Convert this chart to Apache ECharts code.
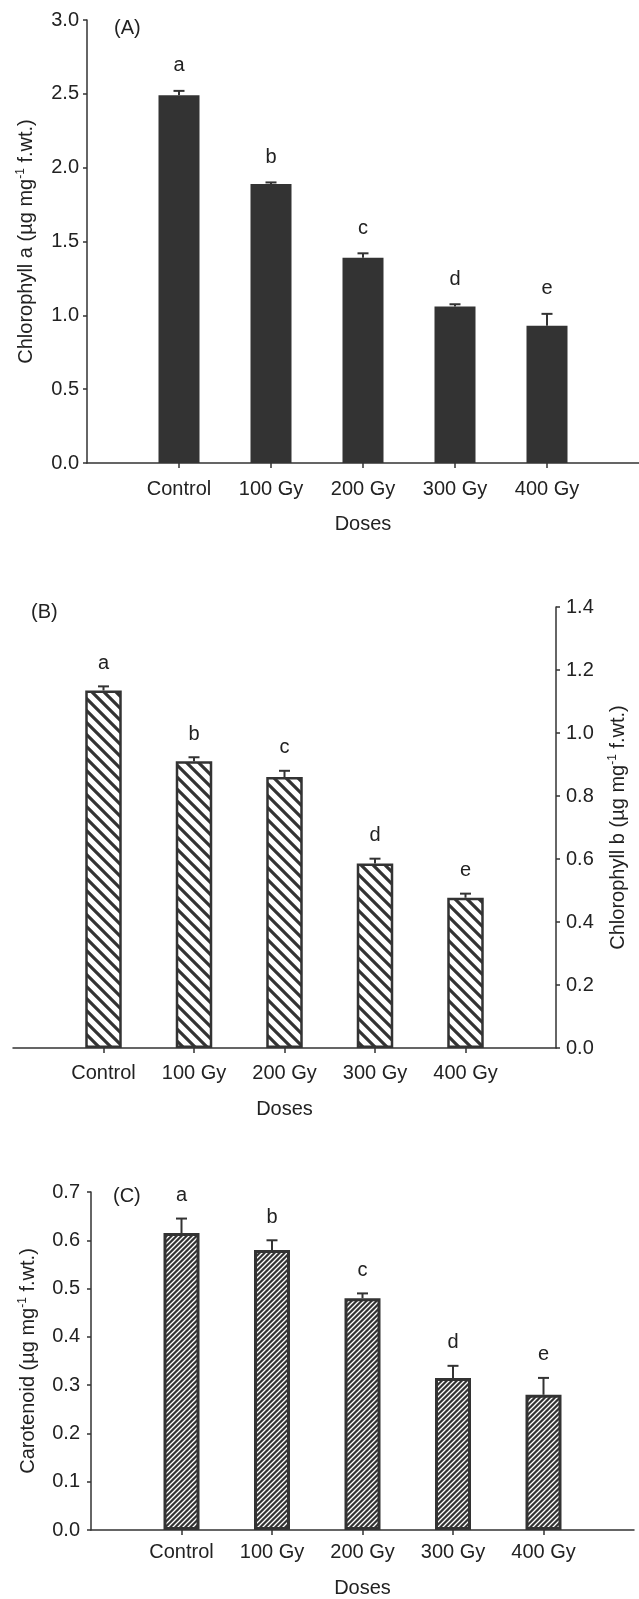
<!DOCTYPE html>
<html>
<head>
<meta charset="utf-8">
<script src="https://cdn.jsdelivr.net/npm/echarts@6/dist/echarts.min.js"></script>
<style>
html,body{margin:0;padding:0;background:#fff;}
#chart{width:639px;height:1599px;}
</style>
</head>
<body>
<div id="chart"></div>
<script>
// ---- data ----
const categories = ['Control', '100 Gy', '200 Gy', '300 Gy', '400 Gy'];
const letters = ['a', 'b', 'c', 'd', 'e'];
const chlA = [2.49, 1.89, 1.39, 1.06, 0.93];
const chlAErr = [0.03, 0.01, 0.03, 0.015, 0.08];
const chlB = [1.135, 0.91, 0.86, 0.586, 0.477];
const chlBErr = [0.013, 0.013, 0.02, 0.015, 0.013];
const carot = [0.615, 0.58, 0.48, 0.315, 0.28];
const carotErr = [0.03, 0.02, 0.01, 0.025, 0.035];
const ticksA = [0, 0.5, 1.0, 1.5, 2.0, 2.5, 3.0];
const ticksB = [0, 0.2, 0.4, 0.6, 0.8, 1.0, 1.2, 1.4];
const ticksC = [0, 0.1, 0.2, 0.3, 0.4, 0.5, 0.6, 0.7];
const xPositions = [1, 2, 3, 4, 5];

const FONT = '"Liberation Sans", Arial, Helvetica, sans-serif';
const INK = '#333333';
const TXT = '#222222';

function makePattern(size, bg, fg, lw, dir) {
  const c = document.createElement('canvas');
  c.width = size; c.height = size;
  const g = c.getContext('2d');
  g.fillStyle = bg; g.fillRect(0, 0, size, size);
  g.strokeStyle = fg; g.lineWidth = lw; g.lineCap = 'square';
  g.beginPath();
  if (dir === 'back') { // "\"
    g.moveTo(0, 0); g.lineTo(size, size);
    g.moveTo(-size / 2, size / 2); g.lineTo(size / 2, size * 1.5);
    g.moveTo(size / 2, -size / 2); g.lineTo(size * 1.5, size / 2);
  } else { // "/"
    g.moveTo(0, size); g.lineTo(size, 0);
    g.moveTo(-size / 2, size / 2); g.lineTo(size / 2, -size / 2);
    g.moveTo(size / 2, size * 1.5); g.lineTo(size * 1.5, size / 2);
  }
  g.stroke();
  return c;
}
const patB = makePattern(12, '#ffffff', INK, 3.2, 'back');
const patC = makePattern(5, INK, '#ffffff', 1.3, 'fwd');

function pairs(vals, errs) {
  return vals.map((v, i) => [xPositions[i], v, errs[i]]);
}

function errRender(offset) {
  return function (params, api) {
    const x = api.value(0), v = api.value(1), e = api.value(2);
    const p0 = api.coord([x, v]);
    const p1 = api.coord([x, v + e]);
    return {
      type: 'group',
      children: [
        { type: 'line', shape: { x1: p0[0], y1: p0[1], x2: p1[0], y2: p1[1] }, style: { stroke: INK, lineWidth: 2 } },
        { type: 'line', shape: { x1: p1[0] - 5.5, y1: p1[1], x2: p1[0] + 5.5, y2: p1[1] }, style: { stroke: INK, lineWidth: 2 } },
        { type: 'text', x: p1[0], y: p1[1] - offset, style: { text: letters[params.dataIndex], fill: TXT, fontSize: 20, fontFamily: FONT, align: 'center', verticalAlign: 'middle' } }
      ]
    };
  };
}

function xAxisDef(gridIndex, labelMargin, nameGap) {
  return {
    gridIndex: gridIndex, type: 'value', min: 0, max: 6, interval: 1,
    axisLine: { show: true, onZero: false, lineStyle: { color: INK, width: 1.5 } },
    axisTick: { show: true, length: 5, customValues: xPositions, lineStyle: { color: INK, width: 1.5 } },
    axisLabel: { customValues: xPositions, margin: labelMargin, color: TXT, fontSize: 20, fontFamily: FONT,
      formatter: v => categories[Math.round(v) - 1] || '' },
    splitLine: { show: false },
    name: 'Doses', nameLocation: 'middle', nameGap: nameGap,
    nameTextStyle: { color: TXT, fontSize: 20, fontFamily: FONT }
  };
}

function yAxisDef(gridIndex, ticks, position, name, nameGap, labelMargin) {
  return {
    gridIndex: gridIndex, type: 'value', position: position,
    min: ticks[0], max: ticks[ticks.length - 1], interval: +(ticks[1] - ticks[0]).toFixed(3),
    axisLine: { show: true, onZero: false, lineStyle: { color: INK, width: 1.5 } },
    axisTick: { show: true, length: 4, lineStyle: { color: INK, width: 1.5 } },
    axisLabel: { margin: labelMargin, color: TXT, fontSize: 20, fontFamily: FONT, formatter: v => v.toFixed(1) },
    splitLine: { show: false },
    name: name, nameLocation: 'middle', nameGap: nameGap, nameRotate: 90,
    nameTextStyle: {
      color: TXT, fontSize: 20, fontFamily: FONT, lineHeight: 22,
      rich: { sup: { fontSize: 12, fontFamily: FONT, color: TXT, verticalAlign: 'top', lineHeight: 22 } }
    }
  };
}

const chart = echarts.init(document.getElementById('chart'), null, { renderer: 'canvas' });
chart.setOption({
  animation: false,
  backgroundColor: '#ffffff',
  textStyle: { fontFamily: FONT },
  grid: [
    { left: 87, top: 20, width: 562.5, height: 443 },
    { left: 13, top: 607, width: 543, height: 441 },
    { left: 91, top: 1192, width: 543, height: 338 }
  ],
  xAxis: [
    xAxisDef(0, 16, 51),
    xAxisDef(1, 15, 51),
    xAxisDef(2, 12, 48)
  ],
  yAxis: [
    yAxisDef(0, ticksA, 'left', 'Chlorophyll a (µg mg{sup|-1} f.wt.)', 50, 8),
    yAxisDef(1, ticksB, 'right', 'Chlorophyll b (µg mg{sup|-1} f.wt.)', 51, 10),
    yAxisDef(2, ticksC, 'left', 'Carotenoid (µg mg{sup|-1} f.wt.)', 52, 11)
  ],
  graphic: [
    { type: 'text', left: 114, top: 18, style: { text: '(A)', fill: TXT, fontSize: 20, fontFamily: FONT } },
    { type: 'text', left: 31, top: 602, style: { text: '(B)', fill: TXT, fontSize: 20, fontFamily: FONT } },
    { type: 'text', left: 113, top: 1186, style: { text: '(C)', fill: TXT, fontSize: 20, fontFamily: FONT } }
  ],
  series: [
    { type: 'bar', xAxisIndex: 0, yAxisIndex: 0, barWidth: 41, data: pairs(chlA, chlAErr).map(d => [d[0], d[1]]),
      itemStyle: { color: INK } },
    { type: 'custom', xAxisIndex: 0, yAxisIndex: 0, data: pairs(chlA, chlAErr), renderItem: errRender(25), clip: false, z: 5 },
    { type: 'bar', xAxisIndex: 1, yAxisIndex: 1, barWidth: 36.5, data: pairs(chlB, chlBErr).map(d => [d[0], d[1]]),
      itemStyle: { color: { image: patB, repeat: 'repeat' }, borderColor: INK, borderWidth: 2.5 } },
    { type: 'custom', xAxisIndex: 1, yAxisIndex: 1, data: pairs(chlB, chlBErr), renderItem: errRender(23), clip: false, z: 5 },
    { type: 'bar', xAxisIndex: 2, yAxisIndex: 2, barWidth: 36, data: pairs(carot, carotErr).map(d => [d[0], d[1]]),
      itemStyle: { color: { image: patC, repeat: 'repeat' }, borderColor: INK, borderWidth: 3 } },
    { type: 'custom', xAxisIndex: 2, yAxisIndex: 2, data: pairs(carot, carotErr), renderItem: errRender(23), clip: false, z: 5 }
  ]
});
</script>
</body>
</html>
